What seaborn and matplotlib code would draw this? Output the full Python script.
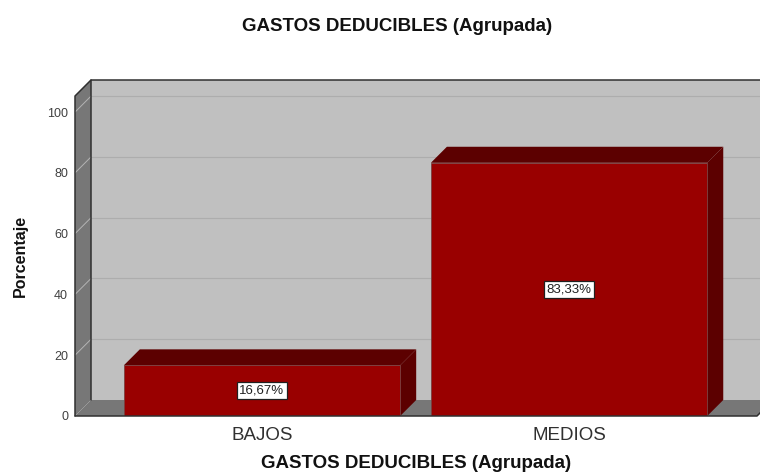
import numpy as np
import pandas as pd
import seaborn as sns
import matplotlib.pyplot as plt
from matplotlib.patches import Polygon

# data
categorias = ['BAJOS', 'MEDIOS']
porcentajes = [16.67, 83.33]
etiquetas = ['16,67%', '83,33%']
yticks = [0, 20, 40, 60, 80, 100]

# style
W, H = 760, 472
LEFT, RIGHT, BOTTOM, TOP = 75, 757, 416, 96
DEPTH = 16
ROJO = '#990000'
ROJO_OSC = '#5c0000'
PARED = '#c0c0c0'
LADO = '#777777'

sns.set_theme(style='white')
plt.rcParams['font.family'] = ['Liberation Sans', 'DejaVu Sans']

fig = plt.figure(figsize=(W / 100, H / 100), dpi=100)
ax = fig.add_axes([LEFT / W, 1 - BOTTOM / H, (RIGHT - LEFT) / W, (BOTTOM - TOP) / H])

df = pd.DataFrame({'grupo': categorias, 'pct': porcentajes})
sns.barplot(data=df, x='grupo', y='pct', color=ROJO, saturation=1, width=0.9, ax=ax, zorder=5,
            edgecolor='#7a4040', linewidth=0.6)

ax.set_xlim(-0.609, 1.612)
ax.set_ylim(0, 105.3)
xmin, xmax = ax.get_xlim()
ymin, ymax = ax.get_ylim()

# depth of the fake 3d box in data units
dx = DEPTH * (xmax - xmin) / (RIGHT - LEFT)
dy = DEPTH * (ymax - ymin) / (BOTTOM - TOP)


def poly(pts, fc, ec='none', lw=0, z=1):
    ax.add_patch(Polygon(pts, closed=True, facecolor=fc, edgecolor=ec, linewidth=lw,
                         zorder=z, clip_on=False))


# back wall, left wall, floor
poly([(xmin + dx, dy), (xmax + dx, dy), (xmax + dx, ymax + dy), (xmin + dx, ymax + dy)], PARED, z=1)
poly([(xmin, 0), (xmin + dx, dy), (xmin + dx, ymax + dy), (xmin, ymax)], LADO, z=1)
poly([(xmin, 0), (xmax, 0), (xmax + dx, dy), (xmin + dx, dy)], LADO, z=1)

# gridlines
for t in yticks[1:]:
    ax.plot([xmin + dx, xmax + dx], [t + dy, t + dy], color='#adadad', lw=0.8, zorder=2, clip_on=False)
    ax.plot([xmin, xmin + dx], [t, t + dy], color='#b4b4b4', lw=0.7, zorder=2, clip_on=False)

# box edges
ax.plot([xmin, xmin, xmin + dx, xmax + dx], [0, ymax, ymax + dy, ymax + dy], color='#303030', lw=1.1,
        zorder=3, clip_on=False)
ax.plot([xmin + dx, xmin + dx], [dy, ymax + dy], color='#303030', lw=1.1, zorder=3, clip_on=False)
ax.plot([xmin, xmax, xmax + dx], [0, 0, dy], color='#303030', lw=1.1, zorder=6, clip_on=False)

# bar depth faces and labels
for bar, txt in zip(ax.patches[:len(categorias)], etiquetas):
    x0, x1 = bar.get_x(), bar.get_x() + bar.get_width()
    h = bar.get_height()
    poly([(x0, h), (x1, h), (x1 + dx, h + dy), (x0 + dx, h + dy)], ROJO_OSC, z=4)
    poly([(x1, 0), (x1 + dx, dy), (x1 + dx, h + dy), (x1, h)], ROJO_OSC, z=4)
    ax.text((x0 + x1) / 2, h / 2, txt, ha='center', va='center', fontsize=9.5, color='#202020',
            zorder=7, bbox=dict(boxstyle='square,pad=0.2', fc='white', ec='#202020', lw=0.9))

ax.set_yticks(yticks)
ax.set_xticks(range(len(categorias)))
ax.set_xticklabels(categorias, fontsize=13.5, color='#303030')
ax.tick_params(axis='x', length=0, pad=8)
ax.tick_params(axis='y', length=0, pad=5, labelsize=9, labelcolor='#404040')
sns.despine(ax=ax, left=True, bottom=True)
ax.set_xlabel('')
ax.set_ylabel('')

fig.text(397 / W, 1 - 26.5 / H, 'GASTOS DEDUCIBLES (Agrupada)', ha='center', va='center',
         fontsize=13.5, fontweight='bold', color='#111111')
fig.text(416 / W, 1 - 464 / H, 'GASTOS DEDUCIBLES (Agrupada)', ha='center', va='center',
         fontsize=13.5, fontweight='bold', color='#111111')
fig.text(20 / W, 1 - 256 / H, 'Porcentaje', rotation=90, ha='center', va='center',
         fontsize=11.5, fontweight='bold', color='#111111')

fig.savefig('out.png', dpi=100)
